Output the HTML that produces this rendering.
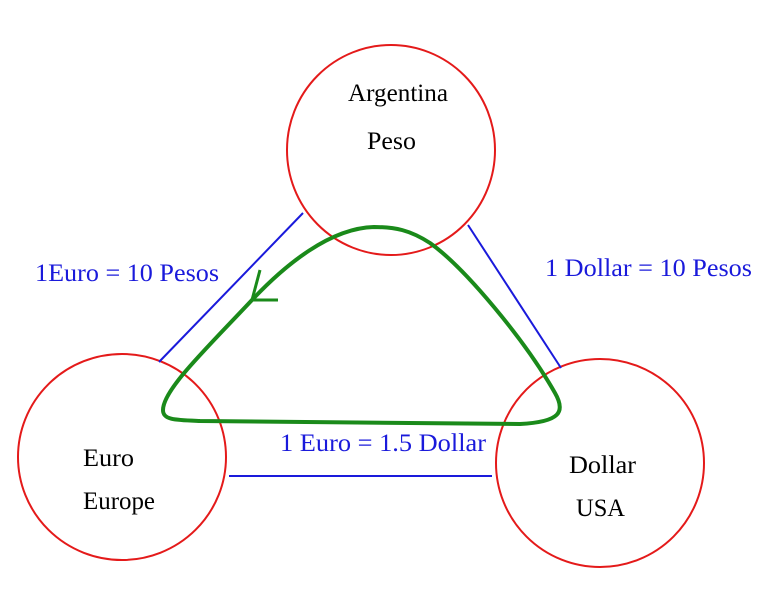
<!DOCTYPE html>
<html><head><meta charset="utf-8"><style>html,body{margin:0;padding:0;background:#fff}svg{display:block}text{font-family:"Liberation Serif","Times New Roman",serif}</style></head>
<body>
<svg width="766" height="590" viewBox="0 0 766 590" xmlns="http://www.w3.org/2000/svg">
<g fill="none" stroke="#e41a1a" stroke-width="2">
<ellipse cx="391" cy="150" rx="104" ry="105"/>
<ellipse cx="122" cy="457" rx="104" ry="103"/>
<ellipse cx="600" cy="463" rx="104" ry="104"/>
</g>
<g stroke="#1a1adb" stroke-width="2">
<line x1="303" y1="213" x2="159" y2="362"/>
<line x1="468" y1="225" x2="561" y2="368"/>
<line x1="229" y1="476" x2="492" y2="476"/>
</g>
<path d="M374,227 C330,228 285,265 252,300 C205,350 163,390 163,410 C163,420 175,420 200,421 L520,424 C560,422 566,412 555,393 C525,340 465,268 430,243 C410,230 395,227 374,227 Z" fill="none" stroke="#1a8a1a" stroke-width="4"/>
<path d="M260,270 L252,300 L278,300" fill="none" stroke="#1a8a1a" stroke-width="3"/>
<g font-size="25" fill="#000" font-family="Liberation Serif, serif">
<text x="348" y="101" textLength="100" lengthAdjust="spacingAndGlyphs">Argentina</text>
<text x="367" y="149" textLength="49" lengthAdjust="spacingAndGlyphs">Peso</text>
<text x="83" y="466" textLength="51" lengthAdjust="spacingAndGlyphs">Euro</text>
<text x="83" y="509" textLength="72" lengthAdjust="spacingAndGlyphs">Europe</text>
<text x="569" y="473" textLength="67" lengthAdjust="spacingAndGlyphs">Dollar</text>
<text x="576" y="516" textLength="49" lengthAdjust="spacingAndGlyphs">USA</text>
</g>
<g font-size="25" fill="#1a1adb" font-family="Liberation Serif, serif">
<text x="35" y="281" textLength="184" lengthAdjust="spacingAndGlyphs">1Euro = 10 Pesos</text>
<text x="545" y="276" textLength="207" lengthAdjust="spacingAndGlyphs">1 Dollar = 10 Pesos</text>
<text x="280" y="451" textLength="206" lengthAdjust="spacingAndGlyphs">1 Euro = 1.5 Dollar</text>
</g>
</svg>
</body></html>
